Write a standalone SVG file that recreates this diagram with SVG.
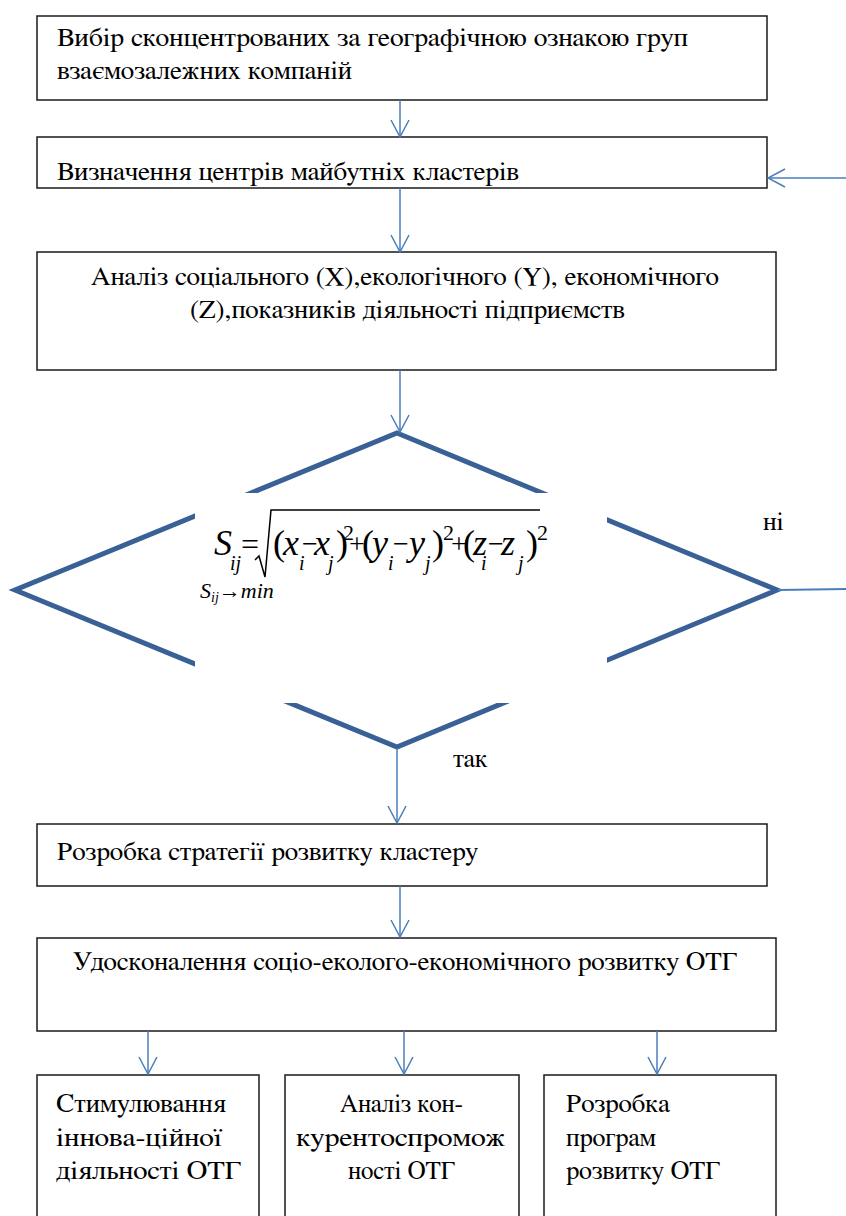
<svg xmlns="http://www.w3.org/2000/svg" width="846" height="1216" viewBox="0 0 846 1216">
<defs>
<marker id="ah" viewBox="0 0 20 20" refX="19" refY="10" markerWidth="20" markerHeight="20" markerUnits="userSpaceOnUse" orient="auto">
<path d="M2,1 L19,10 L2,19" fill="none" stroke="#4A7EBB" stroke-width="1.5"/>
</marker>
</defs>
<rect width="846" height="1216" fill="#fff"/>

<g id="n1">
<rect x="37" y="16" width="730" height="84" fill="#fff" stroke="#1a1a1a" stroke-width="1.5"/>
<text font-family="FreeSerif, serif" font-size="26" x="57" y="46" textLength="631" lengthAdjust="spacingAndGlyphs">Вибір сконцентрованих за географічною ознакою груп</text>
<text font-family="FreeSerif, serif" font-size="26" x="57" y="79" textLength="295" lengthAdjust="spacingAndGlyphs">взаємозалежних компаній</text>
</g>

<g id="n2">
<rect x="37" y="137" width="730" height="51" fill="#fff" stroke="#1a1a1a" stroke-width="1.5"/>
<text font-family="FreeSerif, serif" font-size="26" x="57" y="180" textLength="462" lengthAdjust="spacingAndGlyphs">Визначення центрів майбутніх кластерів</text>
</g>

<g id="n3">
<rect x="37" y="252" width="739" height="118" fill="#fff" stroke="#1a1a1a" stroke-width="1.5"/>
<text font-family="FreeSerif, serif" font-size="26" x="91" y="285" textLength="628" lengthAdjust="spacingAndGlyphs">Аналіз соціального (X),екологічного (Y), економічного</text>
<text font-family="FreeSerif, serif" font-size="26" x="190" y="318" textLength="435" lengthAdjust="spacingAndGlyphs">(Z),показників діяльності підприємств</text>
</g>

<g id="decision">
<polygon points="397,433 777,590 397,747 15,590" fill="none" stroke="#3A6195" stroke-width="5"/>
<rect x="195" y="493" width="412" height="210" fill="#fff"/>
<polyline points="255,560 259,556 265,577 271,510 540,510" fill="none" stroke="#000" stroke-width="1.5"/>
<text font-family="Liberation Serif, serif"><tspan x="214" y="555" font-size="36" font-style="italic">S</tspan><tspan x="230" y="570" font-size="20" font-style="italic">ij</tspan><tspan x="241" y="555" font-size="32">=</tspan><tspan x="273" y="555" font-size="36">(</tspan><tspan x="283" y="555" font-size="36" font-style="italic">x</tspan><tspan x="299" y="570" font-size="20" font-style="italic">i</tspan><tspan x="302" y="553" font-size="28">−</tspan><tspan x="314" y="555" font-size="36" font-style="italic">x</tspan><tspan x="328" y="570" font-size="20" font-style="italic">j</tspan><tspan x="336" y="555" font-size="36">)</tspan><tspan x="343" y="540" font-size="22">2</tspan><tspan x="349" y="553" font-size="28">+</tspan><tspan x="362" y="555" font-size="36">(</tspan><tspan x="372" y="555" font-size="36" font-style="italic">y</tspan><tspan x="388" y="570" font-size="20" font-style="italic">i</tspan><tspan x="393" y="553" font-size="28">−</tspan><tspan x="409" y="555" font-size="36" font-style="italic">y</tspan><tspan x="425" y="570" font-size="20" font-style="italic">j</tspan><tspan x="432" y="555" font-size="36">)</tspan><tspan x="443" y="540" font-size="22">2</tspan><tspan x="451" y="553" font-size="28">+</tspan><tspan x="463" y="555" font-size="36">(</tspan><tspan x="473" y="555" font-size="36" font-style="italic">z</tspan><tspan x="481" y="570" font-size="20" font-style="italic">i</tspan><tspan x="488" y="553" font-size="28">−</tspan><tspan x="501" y="555" font-size="36" font-style="italic">z</tspan><tspan x="518" y="570" font-size="20" font-style="italic">j</tspan><tspan x="526" y="555" font-size="36">)</tspan><tspan x="537" y="540" font-size="22">2</tspan></text>
<text font-family="Liberation Serif, serif" font-size="22" font-style="italic" x="200" y="598">S<tspan font-size="14" dy="4">ij</tspan><tspan dy="-4" font-style="normal">→</tspan>min</text>
</g>

<g id="lbl-no"><text font-family="FreeSerif, serif" font-size="26" x="763" y="530">ні</text></g>
<g id="lbl-yes"><text font-family="FreeSerif, serif" font-size="26" x="453" y="767">так</text></g>

<g id="n4">
<rect x="37" y="824" width="730" height="62" fill="#fff" stroke="#1a1a1a" stroke-width="1.5"/>
<text font-family="FreeSerif, serif" font-size="26" x="57" y="860" textLength="421" lengthAdjust="spacingAndGlyphs">Розробка стратегії розвитку кластеру</text>
</g>

<g id="n5">
<rect x="37" y="938" width="739" height="93" fill="#fff" stroke="#1a1a1a" stroke-width="1.5"/>
<text font-family="FreeSerif, serif" font-size="26" x="73" y="970" textLength="664" lengthAdjust="spacingAndGlyphs">Удосконалення соціо-еколого-економічного розвитку ОТГ</text>
</g>

<g id="n6">
<rect x="37" y="1075" width="222" height="170" fill="#fff" stroke="#1a1a1a" stroke-width="1.5"/>
<text font-family="FreeSerif, serif" font-size="26" x="56" y="1112" textLength="170" lengthAdjust="spacingAndGlyphs">Стимулювання</text>
<text font-family="FreeSerif, serif" font-size="26" x="56" y="1146" textLength="166" lengthAdjust="spacingAndGlyphs">іннова-ційної</text>
<text font-family="FreeSerif, serif" font-size="26" x="56" y="1179" textLength="185" lengthAdjust="spacingAndGlyphs">діяльності ОТГ</text>
</g>

<g id="n7">
<rect x="285" y="1075" width="234" height="170" fill="#fff" stroke="#1a1a1a" stroke-width="1.5"/>
<text font-family="FreeSerif, serif" font-size="26" x="340" y="1112" textLength="123" lengthAdjust="spacingAndGlyphs">Аналіз кон-</text>
<text font-family="FreeSerif, serif" font-size="26" x="296" y="1146" textLength="209" lengthAdjust="spacingAndGlyphs">курентоспромож</text>
<text font-family="FreeSerif, serif" font-size="26" x="348" y="1179" textLength="107" lengthAdjust="spacingAndGlyphs">ності ОТГ</text>
</g>

<g id="n8">
<rect x="544" y="1075" width="232" height="170" fill="#fff" stroke="#1a1a1a" stroke-width="1.5"/>
<text font-family="FreeSerif, serif" font-size="26" x="566" y="1112" textLength="104" lengthAdjust="spacingAndGlyphs">Розробка</text>
<text font-family="FreeSerif, serif" font-size="26" x="566" y="1146" textLength="90" lengthAdjust="spacingAndGlyphs">програм</text>
<text font-family="FreeSerif, serif" font-size="26" x="566" y="1179" textLength="154" lengthAdjust="spacingAndGlyphs">розвитку ОТГ</text>
</g>

<g id="connectors" fill="none" stroke="#4A7EBB" stroke-width="1.5">
<line x1="400" y1="100" x2="400" y2="137" marker-end="url(#ah)"/>
<line x1="400" y1="188" x2="400" y2="252" marker-end="url(#ah)"/>
<line x1="400" y1="370" x2="400" y2="432" marker-end="url(#ah)"/>
<line x1="397" y1="748" x2="397" y2="823" marker-end="url(#ah)"/>
<line x1="400" y1="886" x2="400" y2="937" marker-end="url(#ah)"/>
<line x1="148" y1="1031" x2="148" y2="1074" marker-end="url(#ah)"/>
<line x1="404" y1="1031" x2="404" y2="1074" marker-end="url(#ah)"/>
<line x1="657" y1="1031" x2="657" y2="1074" marker-end="url(#ah)"/>
<line x1="846" y1="178" x2="768" y2="178" marker-end="url(#ah)"/>
<line x1="778" y1="590" x2="846" y2="589" stroke-width="2"/>
</g>
</svg>
